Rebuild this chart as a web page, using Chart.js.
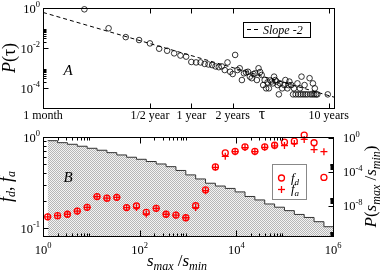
<!DOCTYPE html>
<html>
<head>
<meta charset="utf-8">
<script src="https://cdn.jsdelivr.net/npm/chart.js@4.4.1/dist/chart.umd.min.js"></script>
<style>
  html, body { margin: 0; padding: 0; background: #fff; }
  #wrap { position: relative; width: 382px; height: 272px; }
  .box { position: absolute; left: 0; width: 382px; }
  #topBox { top: 0; height: 128px; }
  #botBox { top: 128px; height: 144px; }
</style>
</head>
<body>
<div id="wrap">
  <div class="box" id="topBox"><canvas id="tauChart"></canvas></div>
  <div class="box" id="botBox"><canvas id="ratioChart"></canvas></div>
</div>
<script>
/******** data: panel A *********/
const tauMonths = [2, 3, 4, 5, 6, 7, 8, 9, 10, 11, 12, 13, 14, 15, 16, 17, 18, 19, 20,
    21, 22, 23, 24, 25, 26, 27, 28, 29, 30, 31, 32, 33, 34, 35, 36, 37, 38, 39, 40,
    41, 42, 43, 44, 45, 46, 47, 48, 49, 50, 51, 52, 53, 55, 57, 58, 60, 61, 62, 64,
    66, 67, 69, 71, 72, 74, 75, 76, 78, 80, 81, 84, 87, 88, 91, 92, 94, 95, 97, 99, 118];
const tauP = [0.86, 0.097, 0.035, 0.025, 0.017, 0.0092, 0.0073, 0.0054, 0.0042, 0.0037,
    0.0020, 0.0019, 0.0019, 0.0016, 0.0015, 0.0014, 0.0012, 0.0011, 0.0012,
    0.00079, 0.0019, 0.00065, 0.0005, 0.0045, 0.00079, 0.00097, 0.00025, 0.00054, 0.0006,
    0.00065, 0.00037, 0.00031, 0.0005, 0.00054, 0.00025, 0.00097, 0.00063, 0.00045, 0.00014,
    0.00025, 0.000096, 0.00019, 0.000096, 0.00024, 0.00021, 0.00017, 0.00037, 0.00025, 0.00021,
    0.00014, 0.000048, 0.00017, 0.000096, 0.00014, 0.00025, 0.000096, 0.00014, 0.00021, 0.00014,
    0.000048, 0.000096, 0.000048, 0.00017, 0.000048, 0.000096, 0.000048, 0.00037, 0.000048, 0.00014,
    0.000048, 0.000048, 0.00031, 0.000048, 0.000048, 0.00017, 0.000048, 0.000096, 0.000048, 0.000048,
    0.000048];
const slopeX = [1, 131];
const slopeP = [0.6, 3.5e-5];
const tauTickVals = [1, 6, 12, 24, 120];
const tauTickText = ["1 month", "1/2 year", "1 year", "2 years", "10 years"];
const tauYExp = [0, -2, -4];

/******** data: panel B *********/
const ratioX = [1.25, 2, 3.2, 5.12, 8.19, 13.1, 21, 33.6, 53.7, 85.9, 137, 220, 352, 563,
    901, 1441, 2306, 3690, 5903, 9445, 15112, 24179, 38687, 61899, 99039, 158462,
    253540, 405664, 649063];
const fdValues = [0.133, 0.137, 0.142, 0.154, 0.169, 0.222, 0.213, 0.218, 0.168, 0.175,
    0.149, 0.165, 0.142, 0.139, 0.130, 0.176, 0.263, 0.469, 0.669, 0.697, 0.780, 0.697,
    0.780, 0.812, 0.877, 0.899, 1.05, 0.865, 0.36];
const faValues = [0.133, 0.137, 0.142, 0.154, 0.169, 0.222, 0.213, 0.218, 0.168, 0.168,
    0.143, 0.165, 0.142, 0.139, 0.130, 0.168, 0.258, 0.465, 0.614, 0.690, 0.765, 0.690,
    0.770, 0.800, 0.805, 0.848, 0.940, 0.728, 0.690];
const histEdges = [1.25, 2, 3.2, 5.12, 8.19, 13.1, 21, 33.6, 53.7, 85.9, 137, 220, 352, 563,
    901, 1441, 2306, 3690, 5903, 9445, 15112, 24179, 38687, 61899, 99039, 158462,
    253540, 405664, 649063, 1038500];
const histP = [0.48, 0.28, 0.18, 0.106, 0.061, 0.036, 0.0187, 0.01, 0.0054, 0.0031,
    0.0017, 8.7e-4, 4.2e-4, 1.5e-4, 4.5e-5, 1.5e-5, 4.7e-6, 2.2e-6, 1.15e-6, 4.5e-7,
    1.3e-7, 5.1e-8, 1.7e-8, 7.1e-9, 2.8e-9, 1e-9, 4.4e-10, 1.4e-10, 3.6e-11, 3.6e-11];
const ratioTickExp = [0, 2, 4, 6];
const fracExp = [0, -1];
const histExp = [0, -4, -8];

/******** helpers *********/
const SERIF = "'Liberation Serif', 'Times New Roman', serif";
function fnt(size, italic) {
    return (italic ? "italic " : "") + size + "px " + SERIF;
}
// parts: [{t, s, i, dy}]
function drawRich(ctx, parts, x, y, align, angle) {
    ctx.save();
    ctx.translate(x, y);
    if (angle) ctx.rotate(angle);
    ctx.textAlign = "left";
    ctx.textBaseline = "alphabetic";
    ctx.fillStyle = "#000";
    let w = 0;
    parts.forEach((p) => {
        ctx.font = fnt(p.s, p.i);
        p.w = ctx.measureText(p.t).width;
        w += p.w;
    });
    let cx = align === "center" ? -w / 2 : align === "right" ? -w : 0;
    parts.forEach((p) => {
        ctx.font = fnt(p.s, p.i);
        ctx.fillText(p.t, cx, p.dy || 0);
        cx += p.w;
    });
    ctx.restore();
}
function pow10(e) {
    return [{ t: "10", s: 12.5 }, { t: String(e), s: 8.5, dy: -5.5 }];
}
function line(ctx, x0, y0, x1, y1) {
    ctx.beginPath();
    ctx.moveTo(x0, y0);
    ctx.lineTo(x1, y1);
    ctx.stroke();
}
const px = (v) => Math.round(v) + 0.5;
const minorK = [2, 3, 4, 5, 6, 7, 8, 9];

function hatch() {
    const c = document.createElement("canvas");
    c.width = 2;
    c.height = 2;
    const g = c.getContext("2d");
    g.fillStyle = "#f3f3f3";
    g.fillRect(0, 0, 2, 2);
    g.fillStyle = "#b6b6b6";
    g.fillRect(0, 0, 1, 1);
    g.fillRect(1, 1, 1, 1);
    return g.createPattern(c, "repeat");
}

/******** frame plugin: panel A *********/
const tauFrame = {
    id: "tauFrame",
    afterDraw(chart) {
        const { ctx, chartArea: a } = chart;
        const sx = chart.scales.x, sy = chart.scales.y;
        const L = px(a.left), R = px(a.right), T = px(a.top), B = px(a.bottom);
        ctx.save();
        ctx.strokeStyle = "#000";
        ctx.lineWidth = 1;
        ctx.strokeRect(L, T, R - L, B - T);
        tauTickVals.forEach((v) => {
            const x = px(sx.getPixelForValue(v));
            line(ctx, x, B, x, B - 5);
            line(ctx, x, T, x, T + 5);
        });
        [1e-2, 1e-4].forEach((base) => {
            const y = px(sy.getPixelForValue(base));
            line(ctx, L, y, L + 5, y);
            minorK.forEach((k) => {
                const ym = px(sy.getPixelForValue(base * k));
                line(ctx, L, ym, L + 3, ym);
            });
        });
        tauTickVals.forEach((v, i) => {
            drawRich(ctx, [{ t: tauTickText[i], s: 12 }], sx.getPixelForValue(v), 119, "center");
        });
        tauYExp.forEach((e) => {
            drawRich(ctx, pow10(e), a.left - 3, sy.getPixelForValue(Math.pow(10, e)) + 4.5, "right");
        });
        drawRich(ctx, [{ t: "τ", s: 16 }], 262, 119, "center");
        drawRich(ctx, [{ t: "P", s: 18, i: true }, { t: "(τ)", s: 18 }], 15, (a.top + a.bottom) / 2, "center", -Math.PI / 2);
        drawRich(ctx, [{ t: "A", s: 15, i: true }], 68, 75, "center");
        // legend
        ctx.fillStyle = "#fff";
        ctx.fillRect(243, 22, 67, 15);
        ctx.strokeRect(243.5, 22.5, 67, 15);
        ctx.setLineDash([4, 3]);
        line(ctx, 247, 29.5, 259, 29.5);
        ctx.setLineDash([]);
        drawRich(ctx, [{ t: "Slope -2", s: 12, i: true }], 263, 33.5, "left");
        ctx.restore();
    },
};

/******** frame plugin: panel B *********/
const ratioFrame = {
    id: "ratioFrame",
    afterDraw(chart) {
        const { ctx, chartArea: a } = chart;
        const sx = chart.scales.x, sy = chart.scales.y, s2 = chart.scales.y2;
        const L = px(a.left), R = px(a.right), T = px(a.top), B = px(a.bottom);
        ctx.save();
        ctx.strokeStyle = "#000";
        ctx.lineWidth = 1;
        ctx.strokeRect(L, T, R - L, B - T);
        ratioTickExp.forEach((e) => {
            const x = px(sx.getPixelForValue(Math.pow(10, e)));
            line(ctx, x, B, x, B - 6);
            line(ctx, x, T, x, T + 6);
            if (e < 6) {
                minorK.forEach((k) => {
                    const xm = px(sx.getPixelForValue(k * Math.pow(10, e)));
                    line(ctx, xm, B, xm, B - 3);
                    line(ctx, xm, T, xm, T + 3);
                });
            }
        });
        const y1 = px(sy.getPixelForValue(0.1));
        line(ctx, L, y1, L + 5, y1);
        minorK.forEach((k) => {
            const ym = px(sy.getPixelForValue(0.1 * k));
            line(ctx, L, ym, L + 3, ym);
        });
        [0, -4, -8, -12].forEach((e) => {
            const y = s2.getPixelForValue(Math.pow(10, e));
            if (y > a.top && y < a.bottom) line(ctx, R, px(y), R - 5, px(y));
            minorK.forEach((k) => {
                const ym = s2.getPixelForValue(k * Math.pow(10, e));
                if (ym > a.top && ym < a.bottom) line(ctx, R, px(ym), R - 3, px(ym));
            });
        });
        ratioTickExp.forEach((e) => {
            drawRich(ctx, pow10(e), sx.getPixelForValue(Math.pow(10, e)), 125.5, "center");
        });
        fracExp.forEach((e) => {
            drawRich(ctx, pow10(e), a.left - 3, sy.getPixelForValue(Math.pow(10, e)) + 4.5, "right");
        });
        histExp.forEach((e) => {
            drawRich(ctx, pow10(e), a.right + 10, s2.getPixelForValue(Math.pow(10, e)) + 4.5, "left");
        });
        drawRich(ctx, [
            { t: "s", s: 17, i: true }, { t: "max", s: 12, i: true, dy: 4 },
            { t: " /", s: 17 }, { t: "s", s: 17, i: true }, { t: "min", s: 12, i: true, dy: 4 },
        ], 177, 137.5, "center");
        drawRich(ctx, [
            { t: "f", s: 18, i: true }, { t: "d", s: 12, i: true, dy: 3 }, { t: ", ", s: 18 },
            { t: "f", s: 18, i: true }, { t: "a", s: 12, i: true, dy: 3 },
        ], 12, (a.top + a.bottom) / 2, "center", -Math.PI / 2);
        drawRich(ctx, [
            { t: "P", s: 17, i: true }, { t: "(", s: 17 }, { t: "s", s: 17, i: true },
            { t: "max", s: 12, i: true, dy: 3.5 }, { t: " /", s: 17 }, { t: "s", s: 17, i: true },
            { t: "min", s: 12, i: true, dy: 3.5 }, { t: ")", s: 17 },
        ], 376, (a.top + a.bottom) / 2, "center", -Math.PI / 2);
        drawRich(ctx, [{ t: "B", s: 15, i: true }], 68, 54, "center");
        // legend
        ctx.fillStyle = "#fff";
        ctx.fillRect(272, 36, 34, 35);
        ctx.strokeStyle = "#888";
        ctx.strokeRect(272.5, 36.5, 34, 35);
        ctx.strokeStyle = "#f00";
        ctx.lineWidth = 1.3;
        ctx.beginPath();
        ctx.arc(281.5, 50, 3, 0, Math.PI * 2);
        ctx.stroke();
        line(ctx, 278, 61.5, 285, 61.5);
        line(ctx, 281.5, 58, 281.5, 65);
        drawRich(ctx, [{ t: "f", s: 13, i: true }, { t: "d", s: 9, i: true, dy: 3 }], 291, 53.5, "left");
        drawRich(ctx, [{ t: "f", s: 13, i: true }, { t: "a", s: 9, i: true, dy: 3 }], 291, 65, "left");
        ctx.restore();
    },
};

const hiddenAxis = {
    ticks: { display: false },
    grid: { display: false },
    border: { display: false },
};

/******** P(tau) scatter chart *********/
const tauChart = new Chart(document.getElementById("tauChart"), {
    type: "scatter",
    data: {
        datasets: [
            {
                label: "Slope -2",
                type: "line",
                data: slopeX.map((x, i) => ({ x: x, y: slopeP[i] })),
                borderColor: "#000",
                borderWidth: 1,
                borderDash: [4, 3],
                pointRadius: 0,
                fill: false,
            },
            {
                label: "P(tau)",
                data: tauMonths.map((x, i) => ({ x: x, y: tauP[i] })),
                pointStyle: "circle",
                pointRadius: 2.8,
                borderColor: "#000",
                borderWidth: 0.8,
                backgroundColor: "rgba(0,0,0,0)",
                clip: false,
            },
        ],
    },
    options: {
        responsive: true,
        maintainAspectRatio: false,
        animation: false,
        devicePixelRatio: 1,
        events: [],
        layout: { padding: { top: 8, right: 48, left: 0, bottom: 0 } },
        plugins: { legend: { display: false }, tooltip: { enabled: false } },
        scales: {
            x: {
                type: "logarithmic", min: 1, max: 131, ...hiddenAxis,
                afterFit(s) { s.height = 20; },
            },
            y: {
                type: "logarithmic", min: 1e-5, max: 1, ...hiddenAxis,
                afterFit(s) { s.width = 43; },
            },
        },
    },
    plugins: [tauFrame],
});

/******** f_d, f_a and P(smax/smin) chart *********/
const ratioChart = new Chart(document.getElementById("ratioChart"), {
    type: "scatter",
    data: {
        datasets: [
            {
                label: "f_d",
                data: ratioX.map((x, i) => ({ x: x, y: fdValues[i] })),
                pointStyle: "circle",
                pointRadius: 3,
                borderColor: "#ff0000",
                borderWidth: 1.3,
                backgroundColor: "rgba(0,0,0,0)",
                clip: false,
            },
            {
                label: "f_a",
                data: ratioX.map((x, i) => ({ x: x, y: faValues[i] })),
                pointStyle: "cross",
                pointRadius: 3.5,
                borderColor: "#ff0000",
                borderWidth: 1.3,
                clip: false,
            },
            {
                label: "P(smax/smin)",
                type: "line",
                yAxisID: "y2",
                data: histEdges.map((x, i) => ({ x: x, y: histP[i] })),
                stepped: "before",
                borderColor: "#333",
                borderWidth: 1,
                pointRadius: 0,
                fill: "start",
                backgroundColor: hatch(),
            },
        ],
    },
    options: {
        responsive: true,
        maintainAspectRatio: false,
        animation: false,
        devicePixelRatio: 1,
        events: [],
        layout: { padding: { top: 9, right: 0, left: 0, bottom: 0 } },
        plugins: { legend: { display: false }, tooltip: { enabled: false } },
        scales: {
            x: {
                type: "logarithmic", min: 1, max: 1e6, ...hiddenAxis,
                afterFit(s) { s.height = 36; },
            },
            y: {
                type: "logarithmic", position: "left", min: 0.082, max: 1, ...hiddenAxis,
                afterFit(s) { s.width = 43; },
            },
            y2: {
                type: "logarithmic", position: "right", min: 2.9e-12, max: 1.3, ...hiddenAxis,
                afterFit(s) { s.width = 49; },
            },
        },
    },
    plugins: [ratioFrame],
});
</script>
</body>
</html>
